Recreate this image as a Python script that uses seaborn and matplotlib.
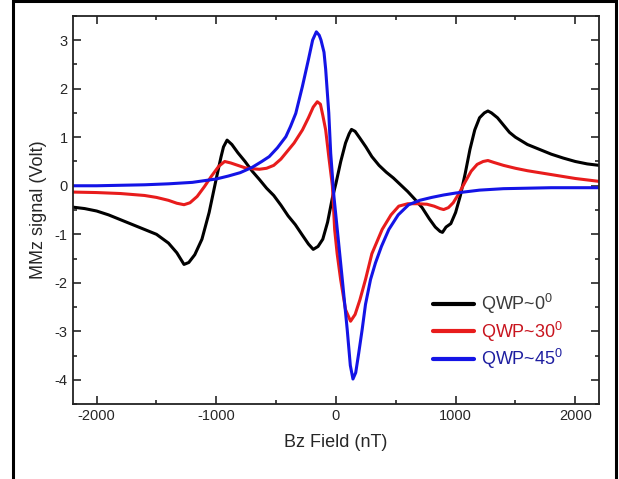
import matplotlib
matplotlib.use('Agg')
import matplotlib.pyplot as plt
from matplotlib.patches import Rectangle
from matplotlib.ticker import MultipleLocator
import seaborn as sns

# QWP~0 deg (black)
x_qwp0 = [-2200, -2100, -2000, -1900, -1800, -1700, -1600, -1500, -1400, -1330, -1270, -1230,
          -1180, -1120, -1060, -1000, -960, -940, -910, -870, -820, -760, -700, -640, -580,
          -520, -460, -400, -340, -280, -230, -190, -150, -110, -70, -30, 0, 40, 80, 110, 130,
          160, 200, 250, 300, 360, 420, 480, 540, 600, 660, 720, 780, 830, 870, 890, 920, 960,
          1000, 1040, 1080, 1120, 1160, 1200, 1240, 1270, 1300, 1350, 1400, 1450, 1500, 1600,
          1700, 1800, 1900, 2000, 2100, 2200]
y_qwp0 = [-0.44, -0.47, -0.52, -0.6, -0.7, -0.8, -0.9, -1.0, -1.18, -1.38, -1.62, -1.58,
          -1.42, -1.1, -0.55, 0.15, 0.6, 0.8, 0.94, 0.85, 0.68, 0.5, 0.3, 0.13, -0.05,
          -0.2, -0.4, -0.62, -0.8, -1.02, -1.2, -1.31, -1.25, -1.1, -0.75, -0.25, 0.05, 0.5, 0.88, 1.07, 1.16,
          1.12, 0.98, 0.8, 0.6, 0.42, 0.28, 0.16, 0.02, -0.12, -0.28, -0.45, -0.68, -0.85, -0.94, -0.96, -0.85, -0.78,
          -0.55, -0.2, 0.25, 0.75, 1.15, 1.4, 1.5, 1.54, 1.5, 1.4, 1.25, 1.1, 1.0, 0.85,
          0.75, 0.65, 0.57, 0.5, 0.45, 0.42]

# QWP~30 deg (red)
x_qwp30 = [-2200, -2000, -1800, -1600, -1500, -1400, -1330, -1270, -1220, -1160, -1100, -1040,
           -980, -930, -880, -820, -760, -700, -640, -580, -520, -460, -420, -350, -280, -230,
           -190, -156, -130, -110, -86, -60, -30, -11, 10, 39, 80, 122, 160, 200, 247, 300, 386,
           460, 525, 600, 680, 760, 820, 870, 900, 940, 980, 1030, 1080, 1130, 1180,
           1230, 1270, 1320, 1400, 1500, 1600, 1700, 1800, 1900, 2000, 2100, 2200]
y_qwp30 = [-0.13, -0.14, -0.16, -0.2, -0.24, -0.3, -0.36, -0.39, -0.35, -0.22, -0.02, 0.2,
           0.4, 0.5, 0.47, 0.42, 0.37, 0.35, 0.34, 0.36, 0.42, 0.55, 0.67, 0.88, 1.15, 1.4,
           1.62, 1.73, 1.68, 1.45, 1.15, 0.6, 0.0, -0.9, -1.4, -1.93, -2.55, -2.79, -2.65, -2.35, -1.93, -1.4, -0.9,
           -0.6, -0.42, -0.37, -0.37, -0.38, -0.42, -0.47, -0.49, -0.45, -0.35, -0.15, 0.08, 0.3, 0.44,
           0.5, 0.52, 0.48, 0.42, 0.36, 0.31, 0.27, 0.23, 0.19, 0.15, 0.12, 0.09]

# QWP~45 deg (blue)
x_qwp45 = [-2200, -2000, -1800, -1600, -1400, -1200, -1000, -900, -800, -700, -620, -558, -490,
           -419, -380, -336, -281, -230, -195, -164, -140, -125, -100, -86, -60, -44, -17, 11, 53, 94,
           120, 142, 165, 190, 219, 247, 289, 330, 380, 442, 520, 608, 700, 800, 900, 1000, 1100,
           1200, 1400, 1600, 1800, 2000, 2200]
y_qwp45 = [0.0, 0.0, 0.01, 0.02, 0.04, 0.07, 0.14, 0.2, 0.27, 0.38, 0.5, 0.6, 0.78,
           1.01, 1.22, 1.49, 2.04, 2.6, 3.0, 3.17, 3.1, 3.0, 2.75, 2.4, 1.5, 0.67, -0.22, -0.9, -1.93, -2.96,
           -3.7, -3.98, -3.85, -3.45, -2.96, -2.44, -1.93, -1.59, -1.25, -0.9, -0.6, -0.39, -0.3, -0.24, -0.19, -0.15, -0.12,
           -0.09, -0.06, -0.05, -0.04, -0.04, -0.04]

labels = ['QWP~0$^{0}$', 'QWP~30$^{0}$', 'QWP~45$^{0}$']
line_colors = ['#000000', '#e81c1c', '#1414e6']
text_colors = ['#3a3a3a', '#c8141e', '#1e1ea0']

sns.set_style('ticks')
plt.rcParams['font.family'] = ['Liberation Sans', 'DejaVu Sans']
plt.rcParams['mathtext.fontset'] = 'custom'
plt.rcParams['mathtext.rm'] = 'Liberation Sans'
plt.rcParams['axes.unicode_minus'] = False

fig = plt.figure(figsize=(6.19, 4.79), dpi=100)
ax = fig.add_axes([0.1175, 0.156, 0.8505, 0.811])

series = [(x_qwp0, y_qwp0), (x_qwp30, y_qwp30), (x_qwp45, y_qwp45)]
for (xs, ys), lab, col in zip(series, labels, line_colors):
    sns.lineplot(x=xs, y=ys, ax=ax, color=col, linewidth=2.2, label=lab, sort=False)

ax.set_xlim(-2200, 2200)
ax.set_ylim(-4.5, 3.5)
ax.xaxis.set_major_locator(MultipleLocator(1000))
ax.xaxis.set_minor_locator(MultipleLocator(500))
ax.yaxis.set_major_locator(MultipleLocator(1))
ax.yaxis.set_minor_locator(MultipleLocator(0.5))
ax.tick_params(which='both', direction='in', top=True, right=True, labelsize=10.5, width=1.2)
ax.tick_params(which='major', length=6)
ax.tick_params(which='minor', length=3)
for sp in ax.spines.values():
    sp.set_visible(True)
    sp.set_linewidth(1.3)
    sp.set_color('#222222')

ax.set_xlabel('Bz Field (nT)', fontsize=13, labelpad=8)
ax.set_ylabel('MMz signal (Volt)', fontsize=13, labelpad=6)

leg = ax.legend(loc='lower left', bbox_to_anchor=(0.684, 0.085), frameon=False, fontsize=13,
                handlelength=2.3, handletextpad=0.35, labelspacing=0.2, borderaxespad=0,
                borderpad=0)
for txt, tc in zip(leg.get_texts(), text_colors):
    txt.set_color(tc)
for h in leg.get_lines():
    h.set_linewidth(3)

# outer frame of the picture
fig.patches.append(Rectangle((13 / 619, -0.05), 603 / 619, 1.047, transform=fig.transFigure,
                             fill=False, edgecolor='black', linewidth=2.2, figure=fig))

fig.savefig('out.png', dpi=100)
